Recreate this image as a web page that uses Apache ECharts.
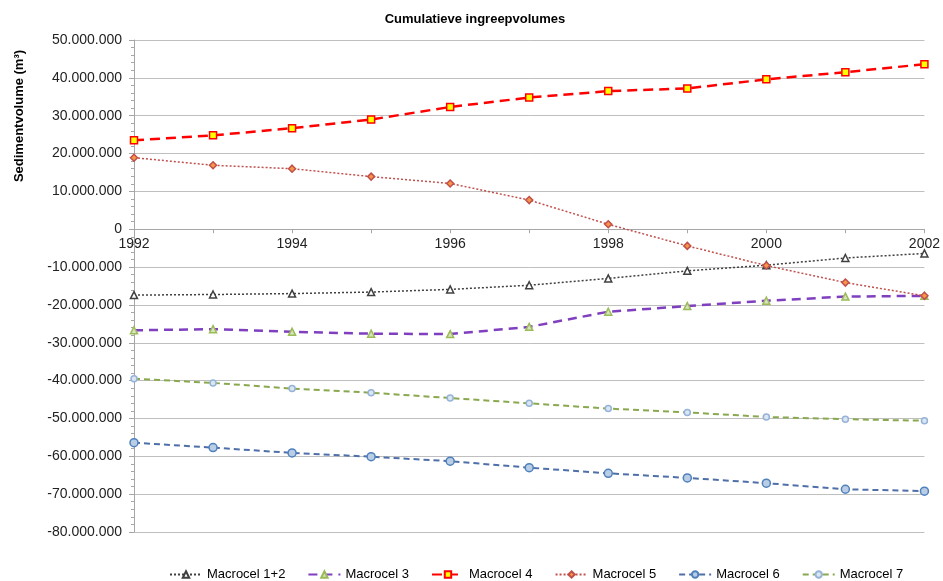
<!DOCTYPE html>
<html>
<head>
<meta charset="utf-8">
<title>Cumulatieve ingreepvolumes</title>
<script src="https://cdn.jsdelivr.net/npm/echarts@6/dist/echarts.min.js"></script>
<style>
    html, body { margin: 0; padding: 0; background: #fff; }
    #chart { width: 943px; height: 581px; }
</style>
</head>
<body>
<div id="chart"></div>
<script>
    // jaren (categorie-as)
    var years = ['1992', '1993', '1994', '1995', '1996', '1997', '1998', '1999', '2000', '2001', '2002'];
    // cumulatieve volumes in miljoen m3
    var macrocel12 = [-17.4, -17.25, -17.0, -16.6, -15.9, -14.8, -13.0, -11.0, -9.5, -7.6, -6.4];
    var macrocel3 = [-26.7, -26.4, -27.1, -27.6, -27.7, -25.8, -21.8, -20.3, -18.9, -17.8, -17.6];
    var macrocel4 = [23.5, 24.8, 26.7, 29.0, 32.3, 34.8, 36.5, 37.2, 39.6, 41.5, 43.6];
    var macrocel5 = [18.9, 16.9, 16.0, 13.9, 12.1, 7.7, 1.3, -4.4, -9.6, -14.1, -17.6];
    var macrocel6 = [-56.4, -57.7, -59.1, -60.1, -61.3, -63.0, -64.5, -65.7, -67.1, -68.7, -69.2];
    var macrocel7 = [-39.5, -40.6, -42.1, -43.2, -44.6, -46.0, -47.4, -48.4, -49.6, -50.2, -50.6];

    var yMin = -80000000, yMax = 50000000;

    var toM3 = function(arr){
        return arr.map(function(v){ return Math.round(v * 1000000); });
    };

    //getal met punten als duizendtal-scheiding
    function fmt(value){
        var neg = value < 0;
        var s = String(Math.abs(Math.round(value)));
        s = s.replace(/\B(?=(\d{3})+(?!\d))/g, '.');
        return (neg ? '-' : '') + s;
    }

    var chart = echarts.init(document.getElementById('chart'));
    var font = 'Liberation Sans, Arial, sans-serif';

    // plotgebied
    var gridTop = 40, gridBottom = 49;
    var gridHeight = 581 - gridTop - gridBottom;
    // x-as op de nullijn leggen
    var zeroOffset = -gridHeight * (0 - yMin) / (yMax - yMin);

    function serie(name, data, lineColor, lineWidth, lineType, symbol, symbolSize, fill, border){
        return {
            name: name,
            type: 'line',
            data: toM3(data),
            symbol: symbol,
            symbolSize: symbolSize,
            showSymbol: true,
            lineStyle: { color: lineColor, width: lineWidth, type: lineType },
            itemStyle: { color: fill, borderColor: border, borderWidth: 1.5 },
            emphasis: { disabled: true },
            z: 3
        };
    }

    chart.setOption({
        animation: false,
        textStyle: { fontFamily: font },
        title: {
            text: 'Cumulatieve ingreepvolumes',
            left: 470,
            top: 8,
            textAlign: 'center',
            textStyle: { fontSize: 13, fontWeight: 'bold', color: '#000', fontFamily: font }
        },
        graphic: [{
            type: 'text',
            x: 19,
            y: 116,
            rotation: Math.PI / 2,
            style: {
                text: 'Sedimentvolume (m³)',
                font: 'bold 13px ' + font,
                fill: '#000',
                align: 'center',
                verticalAlign: 'middle'
            }
        }],
        legend: {
            top: 563,
            left: 164,
            itemGap: 22,
            itemWidth: 32,
            itemHeight: 8,
            textStyle: { fontSize: 13, color: '#000', fontFamily: font },
            data: ['Macrocel 1+2', 'Macrocel 3', 'Macrocel 4', 'Macrocel 5', 'Macrocel 6', 'Macrocel 7']
        },
        grid: {
            left: 134,
            right: 17,
            top: gridTop,
            bottom: gridBottom,
            containLabel: false
        },
        xAxis: {
            type: 'category',
            data: years,
            boundaryGap: false,
            position: 'bottom',
            offset: zeroOffset,
            axisLine: { onZero: false, lineStyle: { color: '#a6a6a6', width: 1 } },
            axisTick: { show: true, interval: 0, length: 4, inside: false, lineStyle: { color: '#a6a6a6' } },
            axisLabel: {
                interval: 1,
                margin: 8,
                fontSize: 14,
                color: '#222',
                fontFamily: font
            },
            splitLine: { show: false }
        },
        yAxis: {
            type: 'value',
            min: yMin,
            max: yMax,
            interval: 10000000,
            axisLine: { show: true, lineStyle: { color: '#a6a6a6' } },
            axisTick: { show: true, length: 5, lineStyle: { color: '#a6a6a6' } },
            minorTick: { show: true, splitNumber: 5, length: 3, lineStyle: { color: '#a6a6a6' } },
            axisLabel: {
                formatter: fmt,
                fontSize: 14,
                color: '#222',
                margin: 12,
                fontFamily: font
            },
            splitLine: { show: true, lineStyle: { color: '#bfbfbf', width: 1 } }
        },
        series: [
            serie('Macrocel 1+2', macrocel12, '#404040', 1.5, [2, 2], 'triangle', 7, '#ffffff', '#404040'),
            serie('Macrocel 3', macrocel3, '#7f3fbf', 2.5, [9, 6], 'triangle', 7, '#d7e4bd', '#9bbb59'),
            serie('Macrocel 4', macrocel4, '#ff0000', 2.5, [10, 6], 'rect', 7, '#ffff00', '#ff0000'),
            serie('Macrocel 5', macrocel5, '#c0504d', 1.5, [2, 2], 'diamond', 7, '#f79646', '#c0504d'),
            serie('Macrocel 6', macrocel6, '#4f6fa8', 2, [6, 4], 'circle', 8, '#b9cde5', '#4f81bd'),
            serie('Macrocel 7', macrocel7, '#8aa84f', 2, [6, 4], 'circle', 6, '#dce6f2', '#95b3d7')
        ]
    });
</script>
</body>
</html>
